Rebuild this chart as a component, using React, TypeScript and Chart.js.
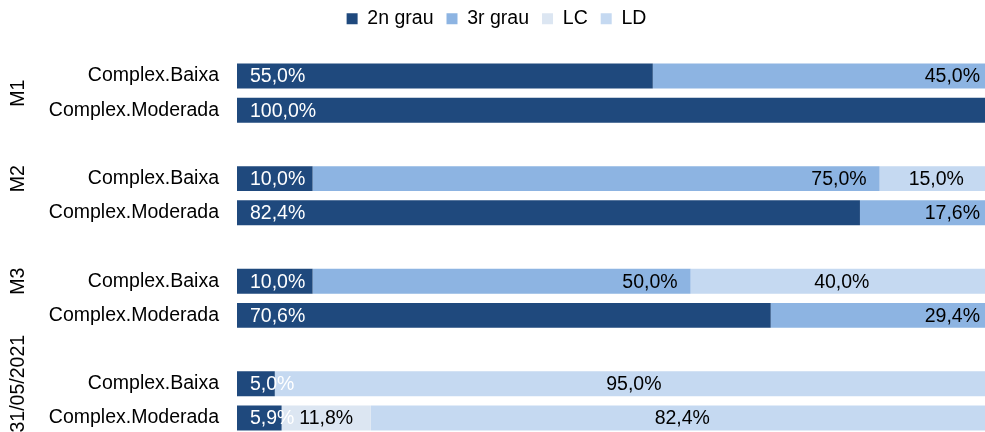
import React, { useEffect, useRef } from 'react';
import { Chart, registerables } from 'chart.js';
Chart.register(...registerables);

const categories = [
  'Complex.Baixa', 'Complex.Moderada', '',
  'Complex.Baixa', 'Complex.Moderada', '',
  'Complex.Baixa', 'Complex.Moderada', '',
  'Complex.Baixa', 'Complex.Moderada',
];
const groupLabels = ['M1', 'M2', 'M3', '31/05/2021'];
const groupStart = [0, 2, 5, 8];
const groupEnd = [1, 4, 7, 10];

const seriesNames = ['2n grau', '3r grau', 'LC', 'LD'];
const seg2n = [55.0, 100.0, null, 10.0, 82.4, null, 10.0, 70.6, null, 5.0, 5.9];
const seg3r = [45.0, null, null, 75.0, 17.6, null, 50.0, 29.4, null, null, null];
const segLC = [null, null, null, null, null, null, null, null, null, null, 11.8];
const segLD = [null, null, null, 15.0, null, null, 40.0, null, null, 95.0, 82.4];

const colors = ['#1F497D', '#8DB4E2', '#DCE6F2', '#C5D9F1'];
const FONT = '"Liberation Sans", Arial, sans-serif';
const FS = 19.5;

const fmt = (v: number) => v.toFixed(1).replace('.', ',') + '%';

const dataLabels = {
  id: 'dataLabels',
  afterDatasetsDraw(chart: any) {
    const ctx = chart.ctx;
    ctx.save();
    ctx.font = `${FS}px ${FONT}`;
    ctx.textBaseline = 'middle';
    chart.data.datasets.forEach((ds: any, di: number) => {
      const meta = chart.getDatasetMeta(di);
      meta.data.forEach((bar: any, i: number) => {
        const v = ds.data[i];
        if (v == null) return;
        const p = bar.getProps(['x', 'y', 'base'], true);
        const left = Math.min(p.x, p.base);
        const right = Math.max(p.x, p.base);
        const t = fmt(v);
        const y = p.y + 1;
        if (di === 0) {
          ctx.fillStyle = '#FFFFFF';
          ctx.textAlign = 'left';
          ctx.fillText(t, left + 13, y);
        } else if (di === 1) {
          ctx.fillStyle = '#000000';
          ctx.textAlign = 'right';
          ctx.fillText(t, right - 13, y);
        } else {
          ctx.fillStyle = '#000000';
          ctx.textAlign = 'center';
          ctx.fillText(t, (left + right) / 2, y);
        }
      });
    });
    ctx.restore();
  },
};

const groupAxis = {
  id: 'groupAxis',
  afterDraw(chart: any) {
    const ctx = chart.ctx;
    const ys = chart.scales.y;
    ctx.save();
    ctx.font = `${FS}px ${FONT}`;
    ctx.fillStyle = '#000000';
    ctx.textAlign = 'center';
    ctx.textBaseline = 'middle';
    groupLabels.forEach((g, k) => {
      const yc = (ys.getPixelForValue(groupStart[k]) + ys.getPixelForValue(groupEnd[k])) / 2;
      ctx.save();
      ctx.translate(19, yc);
      ctx.rotate(-Math.PI / 2);
      ctx.fillText(g, 0, 0);
      ctx.restore();
    });
    ctx.restore();
  },
};

const legendFit = {
  id: 'legendFit',
  beforeInit(chart: any) {
    const lg = chart.legend;
    if (!lg) return;
    const orig = lg.fit;
    lg.fit = function () {
      orig.call(this);
      this.height = 63;
    };
  },
};

export default function App() {
  const ref = useRef<HTMLCanvasElement | null>(null);
  useEffect(() => {
    if (!ref.current) return;
    Chart.defaults.font.family = FONT;
    const data = [seg2n, seg3r, segLC, segLD];
    const chart = new Chart(ref.current, {
      type: 'bar',
      data: {
        labels: categories,
        datasets: seriesNames.map((n, i) => ({
          label: n,
          data: data[i] as any,
          backgroundColor: colors[i],
          borderWidth: 0,
          categoryPercentage: 1,
          barPercentage: 0.73,
        })),
      },
      options: {
        indexAxis: 'y',
        responsive: false,
        maintainAspectRatio: false,
        animation: false,
        layout: { padding: { top: -4, left: 0, right: 0, bottom: 1 } },
        plugins: {
          legend: {
            position: 'top',
            labels: {
              boxWidth: 11,
              boxHeight: 11,
              padding: 13,
              color: '#000000',
              font: { size: FS, family: FONT },
            },
          },
          tooltip: { enabled: false },
        },
        scales: {
          x: { stacked: true, min: 0, max: 100, display: false },
          y: {
            stacked: true,
            grid: { display: false, drawTicks: false },
            border: { display: false },
            ticks: { color: '#000000', font: { size: FS, family: FONT }, padding: 18 },
            afterFit: (s: any) => {
              s.width = 237;
              s.paddingTop = 0;
              s.paddingBottom = 0;
            },
          },
        },
      },
      plugins: [legendFit, dataLabels, groupAxis],
    });
    return () => chart.destroy();
  }, []);
  return (
    <div style={{ position: 'fixed', left: 0, top: 0, width: 985, height: 432, overflow: 'hidden', background: '#fff' }}>
      <canvas ref={ref} width={993} height={436} style={{ display: 'block', width: 993, height: 436 }} />
    </div>
  );
}
